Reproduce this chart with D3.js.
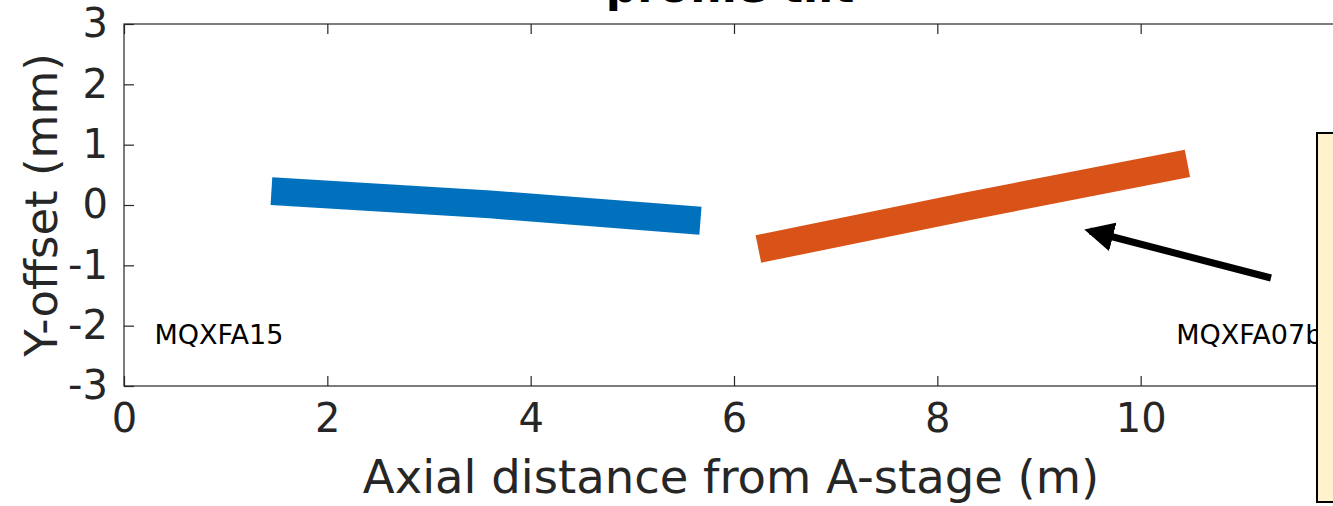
<!DOCTYPE html>
<meta charset="utf-8">
<style>
body { margin: 0; background: #fff; }
svg text { font-family: "DejaVu Sans", sans-serif; fill: #262626; }
.axis path, .axis line { stroke: #262626; }
</style>
<body>
<svg id="svg" width="1333" height="506"></svg>
<script src="https://cdn.jsdelivr.net/npm/d3@7"></script>
<script>
// data
const blueX = [1.45, 3.6, 5.67];
const blueY = [0.23, 0.01, -0.26];
const orangeX = [6.24, 8.3, 10.46];
const orangeY = [-0.73, -0.02, 0.69];
const xTicks = [0, 2, 4, 6, 8, 10];
const yTicks = [-3, -2, -1, 0, 1, 2, 3];
const magnetNames = ["MQXFA15", "MQXFA07b"];
const nameX = [0.3, 10.35];
const nameY = [-2.15, -2.15];

const svg = d3.select("#svg");
const margin = {left: 124, top: 24, bottom: 120};
const plotW = 1220, plotH = 362;

const x = d3.scaleLinear().domain([0, 12]).range([margin.left, margin.left + plotW]);
const y = d3.scaleLinear().domain([-3, 3]).range([margin.top + plotH, margin.top]);

// title, mostly cut off at the top as in the original
svg.append("text")
  .attr("x", 730).attr("y", 2)
  .attr("text-anchor", "middle")
  .style("font-size", "44px").style("font-weight", "bold")
  .style("fill", "#000")
  .text("profile tilt");

// box
svg.append("rect")
  .attr("x", x(0)).attr("y", y(3))
  .attr("width", plotW).attr("height", plotH)
  .attr("fill", "none").attr("stroke", "#262626").attr("stroke-width", 1.2);

// bottom axis
const gx = svg.append("g").attr("class", "axis")
  .attr("transform", "translate(0," + y(-3) + ")")
  .call(d3.axisBottom(x).tickValues(xTicks).tickSize(-10).tickPadding(18));
gx.selectAll("text").style("font-size", "40px");
gx.select(".domain").remove();

// top ticks
svg.append("g").attr("class", "axis")
  .attr("transform", "translate(0," + y(3) + ")")
  .call(d3.axisTop(x).tickValues(xTicks).tickSize(-10).tickFormat(""))
  .select(".domain").remove();

// left axis
const gy = svg.append("g").attr("class", "axis")
  .attr("transform", "translate(" + x(0) + ",0)")
  .call(d3.axisLeft(y).tickValues(yTicks).tickSize(-10).tickPadding(16)
    .tickFormat(d => String(d)));
gy.selectAll("text").style("font-size", "40px");
gy.select(".domain").remove();
svg.selectAll(".axis line").attr("stroke-width", 1.2);

// axis labels
svg.append("text")
  .attr("x", x(0) + 607).attr("y", 493)
  .attr("text-anchor", "middle")
  .style("font-size", "46.5px")
  .text("Axial distance from A-stage (m)");
svg.append("text")
  .attr("transform", "translate(57," + (margin.top + plotH / 2) + ")rotate(-90)")
  .attr("text-anchor", "middle")
  .style("font-size", "45px")
  .text("Y-offset (mm)");

// the two magnets
const line = d3.line().x(d => x(d[0])).y(d => y(d[1]));
const series = [
  {xs: blueX, ys: blueY, color: "#0072BD"},
  {xs: orangeX, ys: orangeY, color: "#D95319"}
];
series.forEach(s => {
  svg.append("path")
    .datum(s.xs.map((v, i) => [v, s.ys[i]]))
    .attr("d", line)
    .attr("fill", "none")
    .attr("stroke", s.color)
    .attr("stroke-width", 28)
    .attr("stroke-linecap", "butt");
});

// magnet names
svg.selectAll(".name")
  .data(magnetNames)
  .enter().append("text")
    .attr("class", "name")
    .attr("x", (d, i) => x(nameX[i]))
    .attr("y", (d, i) => y(nameY[i]))
    .attr("dy", "0.35em")
    .style("font-size", "27px")
    .style("fill", "#000")
    .text(d => d);

// arrow
const defs = svg.append("defs");
defs.append("marker")
  .attr("id", "head")
  .attr("viewBox", "0 0 10 10")
  .attr("refX", 8).attr("refY", 5)
  .attr("markerWidth", 4.2).attr("markerHeight", 4.2)
  .attr("markerUnits", "strokeWidth")
  .attr("orient", "auto")
  .append("path").attr("d", "M0,0L10,5L0,10Z").attr("fill", "#000");
svg.append("line")
  .attr("x1", 1271).attr("y1", 278)
  .attr("x2", 1090).attr("y2", 231)
  .attr("stroke", "#000").attr("stroke-width", 7)
  .attr("marker-end", "url(#head)");

// yellow note box on the right
svg.append("rect")
  .attr("x", 1317).attr("y", 133)
  .attr("width", 40).attr("height", 369)
  .attr("fill", "#FFF2CC").attr("stroke", "#000").attr("stroke-width", 2);
</script>
</body>
